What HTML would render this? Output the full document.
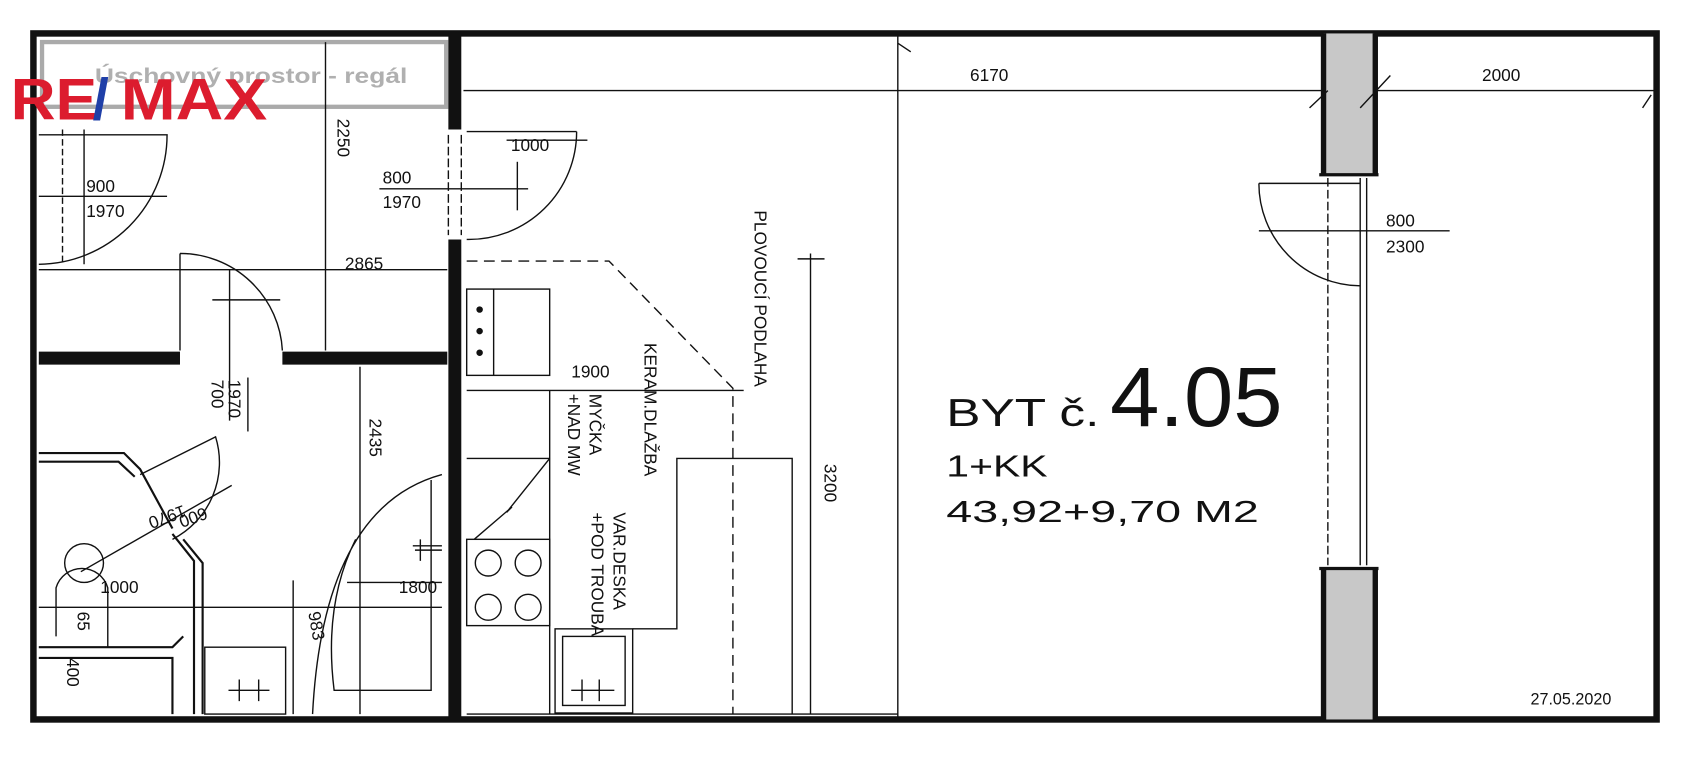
<!DOCTYPE html>
<html><head><meta charset="utf-8"><style>
html,body{margin:0;padding:0;background:#fff;width:1690px;height:768px;overflow:hidden}
svg{display:block}
text{font-family:"Liberation Sans",sans-serif;fill:#111}
</style></head><body>
<svg width="1690" height="768" viewBox="0 0 1568 712" preserveAspectRatio="none" xmlns="http://www.w3.org/2000/svg">
<g fill="none" stroke="#111" stroke-width="1.3">
<rect x="31" y="31" width="1506" height="636" stroke-width="6"/>
<rect x="39" y="39" width="375" height="60" stroke="#aaa" stroke-width="4"/>
<line x1="302" y1="39" x2="302" y2="325"/>
<line x1="36" y1="250" x2="415" y2="250"/>
<line x1="36" y1="182" x2="155" y2="182"/>
<line x1="78" y1="120" x2="78" y2="245"/>
<line x1="58" y1="120" x2="58" y2="245" stroke-dasharray="6,3"/>
<path d="M36 125 L155 125 A120 120 0 0 1 36 245"/>
<path d="M167 235 L167 325 M167 235 A95 95 0 0 1 262 325"/>
<line x1="197" y1="278" x2="260" y2="278"/>
<line x1="213" y1="250" x2="213" y2="390"/>
<line x1="230" y1="350" x2="230" y2="400"/>
<path d="M433 122 L535 122 M535 122 A100 100 0 0 1 433 222"/>
<line x1="352" y1="175" x2="490" y2="175"/>
<line x1="470" y1="130" x2="545" y2="130"/>
<line x1="480" y1="150" x2="480" y2="195"/>
<line x1="422" y1="31" x2="422" y2="120" stroke-width="12"/>
<line x1="422" y1="222" x2="422" y2="667" stroke-width="12"/>
<line x1="36" y1="332" x2="167" y2="332" stroke-width="12"/>
<line x1="262" y1="332" x2="415" y2="332" stroke-width="12"/>
<line x1="416" y1="125" x2="416" y2="218" stroke-dasharray="8,3"/>
<line x1="428" y1="125" x2="428" y2="218" stroke-dasharray="8,3"/>
<line x1="334" y1="340" x2="334" y2="662"/>
<line x1="36" y1="563" x2="410" y2="563"/>
<path d="M36 420 L115 420 L130 435 L160 490 M36 428 L110 428 L125 442" stroke-width="2"/>
<path d="M130 440 L200 405 A80 80 0 0 1 160 500"/>
<line x1="75" y1="530" x2="215" y2="450"/>
<path d="M160 495 L180 520 L180 662 M170 500 L188 522 L188 662" stroke-width="2"/>
<path d="M36 600 L160 600 L170 590 M36 610 L160 610 L160 662" stroke-width="2"/>
<path d="M52 590 L52 545 A25 25 0 0 1 100 545 L100 600"/>
<circle cx="78" cy="522" r="18"/>
<rect x="190" y="600" width="75" height="62"/>
<path d="M222 630 L222 650 M240 630 L240 650 M212 640 L250 640"/>
<path d="M410 440 Q300 470 290 662 M400 445 L400 640 L310 640 Q300 560 330 500"/>
<path d="M385 510 L410 510 M390 500 L390 520 M383 506 L410 506"/>
<line x1="322" y1="540" x2="410" y2="540"/>
<line x1="272" y1="538" x2="272" y2="662"/>
<path d="M433 242 L565 242 L680 360 L680 662" stroke-dasharray="10,6"/>
<rect x="433" y="268" width="77" height="80"/>
<line x1="458" y1="268" x2="458" y2="348"/>
<line x1="433" y1="362" x2="690" y2="362"/>
<line x1="510" y1="362" x2="510" y2="662"/>
<line x1="433" y1="425" x2="510" y2="425"/>
<path d="M510 425 L470 475 L475 470 L440 500"/>
<rect x="433" y="500" width="77" height="80"/>
<circle cx="453" cy="522" r="12"/><circle cx="490" cy="522" r="12"/>
<circle cx="453" cy="563" r="12"/><circle cx="490" cy="563" r="12"/>
<rect x="515" y="583" width="72" height="78"/>
<rect x="522" y="590" width="58" height="64"/>
<path d="M540 630 L540 650 M556 630 L556 650 M530 640 L570 640"/>
<path d="M587 583 L628 583 L628 425 L735 425 L735 662"/>
<line x1="752" y1="235" x2="752" y2="662"/>
<line x1="740" y1="240" x2="765" y2="240"/>
<line x1="433" y1="662" x2="833" y2="662"/>
<line x1="430" y1="84" x2="1537" y2="84"/>
<line x1="833" y1="31" x2="833" y2="667"/>
<rect x="1228" y="31" width="47" height="131" fill="#c8c8c8" stroke="none"/>
<rect x="1228" y="527" width="47" height="140" fill="#c8c8c8" stroke="none"/>
<line x1="1228" y1="31" x2="1228" y2="162" stroke-width="5"/>
<line x1="1276" y1="31" x2="1276" y2="162" stroke-width="5"/>
<line x1="1228" y1="527" x2="1228" y2="667" stroke-width="5"/>
<line x1="1276" y1="527" x2="1276" y2="667" stroke-width="5"/>
<line x1="1224" y1="162" x2="1279" y2="162" stroke-width="3"/>
<line x1="1224" y1="527" x2="1279" y2="527" stroke-width="3"/>
<line x1="1262" y1="165" x2="1262" y2="524"/>
<line x1="1268" y1="165" x2="1268" y2="524"/>
<line x1="1232" y1="165" x2="1232" y2="524" stroke-dasharray="8,3"/>
<path d="M1168 170 L1262 170 M1168 170 A95 95 0 0 0 1262 265"/>
<line x1="1168" y1="214" x2="1345" y2="214"/>
<path d="M1215 100 L1232 84 M1262 100 L1290 70 M1524 100 L1532 88 M833 40 L845 48"/>
</g>
<g fill="#111"><circle cx="445" cy="287" r="3"/><circle cx="445" cy="307" r="3"/><circle cx="445" cy="327" r="3"/></g>
<text x="88" y="77" font-size="20" font-weight="bold" style="fill:#b0b0b0" textLength="290" lengthAdjust="spacingAndGlyphs">Úschovný prostor - regál</text>
<text x="10" y="111" font-size="54" font-weight="bold" style="fill:#dc1c2e" textLength="80" lengthAdjust="spacingAndGlyphs">RE</text>
<text x="86" y="111" font-size="54" font-weight="bold" style="fill:#1f3fa8">/</text>
<text x="112" y="111" font-size="54" font-weight="bold" style="fill:#dc1c2e" textLength="136" lengthAdjust="spacingAndGlyphs">MAX</text>
<g font-size="16">
<text x="80" y="178">900</text><text x="80" y="201">1970</text>
<text x="355" y="170">800</text><text x="355" y="193">1970</text>
<text x="474" y="140">1000</text>
<text x="320" y="250">2865</text>
<text x="530" y="350">1900</text>
<text x="370" y="550">1800</text>
<text x="93" y="550">1000</text>
<text x="900" y="75">6170</text>
<text x="1375" y="75">2000</text>
<text x="1286" y="210">800</text><text x="1286" y="234">2300</text>
<text transform="translate(313,110) rotate(90)">2250</text>
<text transform="translate(343,388) rotate(90)">2435</text>
<text transform="translate(765,430) rotate(90)">3200</text>
<text transform="translate(196,352) rotate(90)">700</text>
<text transform="translate(212,352) rotate(90)">1970</text>
<text transform="translate(286,568) rotate(80)">983</text>
<text transform="translate(62,610) rotate(90)">400</text>
<text transform="translate(72,567) rotate(90)">65</text>
<text transform="translate(190,470) rotate(160)">600</text>
<text transform="translate(170,468) rotate(160)">1970</text>
<text transform="translate(700,195) rotate(90)">PLOVOUCÍ  PODLAHA</text>
<text transform="translate(598,318) rotate(90)">KERAM.DLAŽBA</text>
<text transform="translate(547,365) rotate(90)">MYČKA</text>
<text transform="translate(527,365) rotate(90)">+NAD MW</text>
<text transform="translate(569,475) rotate(90)">VAR.DESKA</text>
<text transform="translate(549,475) rotate(90)">+POD TROUBA</text>
</g>
<text x="878" y="395" font-size="36" textLength="142" lengthAdjust="spacingAndGlyphs">BYT č.</text>
<text x="1030" y="395" font-size="78" textLength="160" lengthAdjust="spacingAndGlyphs">4.05</text>
<text x="878" y="442" font-size="28" textLength="94" lengthAdjust="spacingAndGlyphs">1+KK</text>
<text x="878" y="484" font-size="28" textLength="290" lengthAdjust="spacingAndGlyphs">43,92+9,70  M2</text>
<text x="1420" y="653" font-size="15">27.05.2020</text>
</svg>
</body></html>
